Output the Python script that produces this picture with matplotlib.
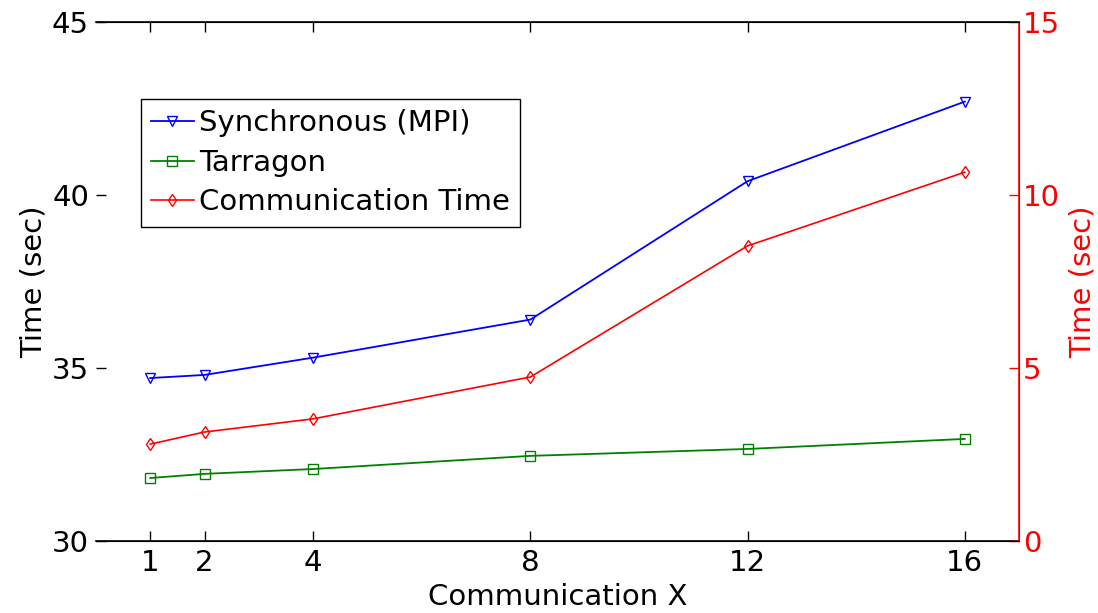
import matplotlib
matplotlib.use("Agg")
import matplotlib.pyplot as plt
from matplotlib.lines import Line2D

plt.rcParams['font.family'] = ['DejaVu Sans']

x = [1, 2, 4, 8, 12, 16]
sync_mpi = [34.71, 34.8, 35.3, 36.4, 40.4, 42.7]
tarragon = [31.82, 31.94, 32.08, 32.46, 32.66, 32.95]
comm_time = [2.8, 3.15, 3.53, 4.74, 8.53, 10.66]
left_ticks = [30, 35, 40, 45]
right_ticks = [0, 5, 10, 15]

fig = plt.figure(figsize=(10.98, 6.13), dpi=100)
ax = fig.add_axes([0.0874, 0.1175, 0.8407, 0.8465])
ax2 = ax.twinx()

ax.plot(x, sync_mpi, color='#0000ff', marker='v', markersize=7, markerfacecolor='none', lw=1.3)
ax.plot(x, tarragon, color='#008000', marker='s', markersize=7, markerfacecolor='none', lw=1.3)
ax2.plot(x, comm_time, color='#ff0000', marker='d', markersize=6, markerfacecolor='none', lw=1.2)

ax.set_xlim(0, 17)
ax.set_ylim(30, 45)
ax2.set_ylim(0, 15)
ax.set_xticks(x)
ax.set_yticks(left_ticks)
ax2.set_yticks(right_ticks)

fs = 21
ax.tick_params(axis='both', direction='in', labelsize=fs, length=7, width=1)
ax.tick_params(axis='x', top=True, pad=6)
ax.tick_params(axis='y', pad=5)
ax2.tick_params(axis='y', direction='in', labelsize=fs, length=7, width=1, colors='#ff0000', pad=3)
ax2.spines['right'].set_color('#ff0000')
ax.spines['left'].set_visible(False)
ax2.spines['left'].set_visible(False)
for s in ['top', 'bottom']:
    ax.spines[s].set_linewidth(1.2)
ax2.spines['right'].set_linewidth(1.2)

ax.set_xlabel('Communication X', fontsize=fs, labelpad=4)
ax.set_ylabel('Time (sec)', fontsize=fs, labelpad=3)
ax2.set_ylabel('Time (sec)', fontsize=fs, color='#ff0000', labelpad=6)

handles = [
    Line2D([], [], color='#0000ff', marker='v', markersize=7, markerfacecolor='none', lw=1.3),
    Line2D([], [], color='#008000', marker='s', markersize=7, markerfacecolor='none', lw=1.3),
    Line2D([], [], color='#ff0000', marker='d', markersize=6, markerfacecolor='none', lw=1.2),
]
labels = ['Synchronous (MPI)', 'Tarragon', 'Communication Time']
leg = ax.legend(handles, labels, loc='upper left', bbox_to_anchor=(0.0488, 0.852),
                borderaxespad=0, fontsize=fs, handlelength=1.45, handletextpad=0.2,
                labelspacing=0.4, borderpad=0.35, fancybox=False, framealpha=1)
leg.get_frame().set_edgecolor('black')
leg.get_frame().set_linewidth(1.0)

fig.savefig('out.png', dpi=100)
